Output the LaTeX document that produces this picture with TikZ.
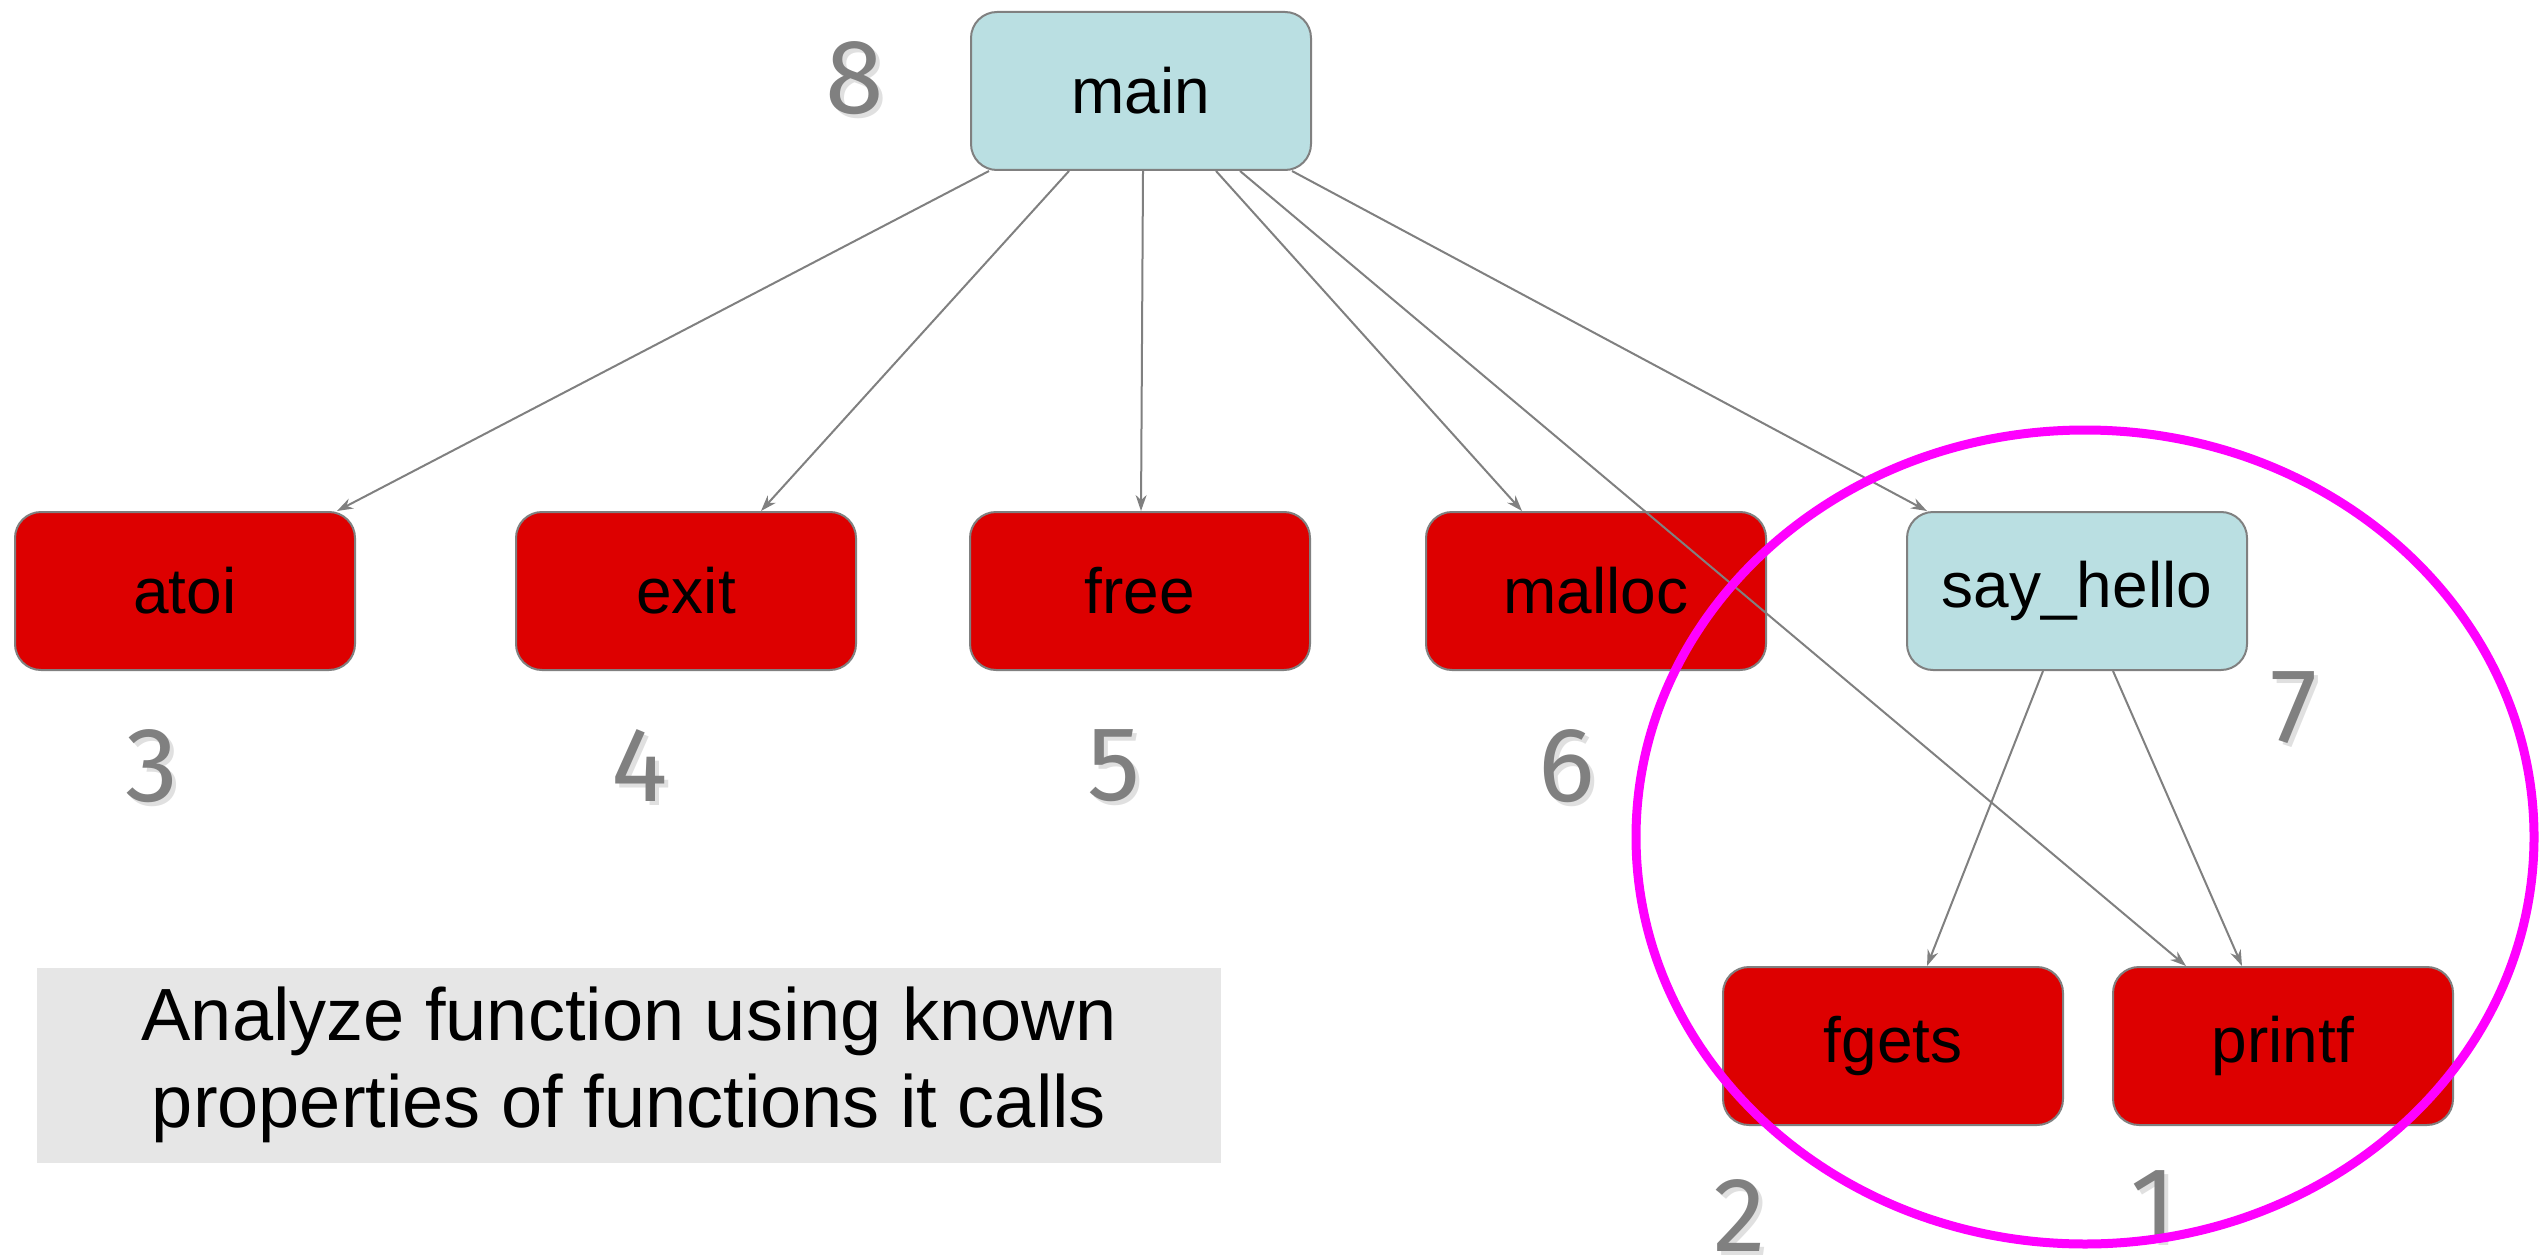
\documentclass[tikz,border=0pt]{standalone}
\usepackage{fontspec}
\setmainfont{Liberation Sans}
\newfontfamily\numfont{Fira Sans}
\usetikzlibrary{arrows.meta}
\definecolor{fnred}{RGB}{221,0,0}
\definecolor{fnblue}{RGB}{186,223,226}
\definecolor{edgegray}{RGB}{128,128,128}
\definecolor{numgray}{RGB}{128,128,128}
\definecolor{notegray}{RGB}{230,230,230}
\definecolor{ringmag}{RGB}{255,0,255}
\newcommand{\numlabel}[3]{%
  \node[numshadow] (#1s) at ([xshift=4pt,yshift=-4pt]#2) {#3};
  \node[num] (#1) at (#2) {#3};}
\begin{document}
\begin{tikzpicture}[x=1pt,y=-1pt,
  fn/.style={draw=edgegray, line width=2pt, rounded corners=26pt,
    minimum width=340pt, minimum height=158pt, inner sep=0pt,
    font=\fontsize{64}{76}\selectfont},
  lib/.style={fn, fill=fnred},
  usr/.style={fn, fill=fnblue},
  call/.style={draw=edgegray, line width=2pt, -{Stealth[length=16pt,width=11pt]}},
  num/.style={text=numgray, font=\numfont\fontsize{106}{120}\selectfont, inner sep=0pt},
  numshadow/.style={num, text=black, opacity=0.12},
  ring/.style={draw=ringmag, line width=9pt}
]
\useasboundingbox (0,0) rectangle (2539,1257);

% nodes
\node[usr] (main) at (1141,91) {main};
\node[lib] (atoi) at (185,591) {atoi};
\node[lib] (exit) at (686,591) {exit};
\node[lib] (free) at (1140,591) {free};
\node[lib] (malloc) at (1596,591) {malloc};
\node[usr] (hello) at (2077,591) {say\_hello};
\node[lib] (fgets) at (1893,1046) {fgets};
\node[lib] (printf) at (2283,1046) {printf};

% note
\node[fill=notegray, minimum width=1184pt, minimum height=195pt, inner sep=0pt,
  align=center, font=\fontsize{74}{87}\selectfont] (note) at (629,1065)
  {Analyze function using known\\properties of functions it calls};

% calls
\draw[call] ([xshift=-152pt]main.south) -- ([xshift=152pt]atoi.north);
\draw[call] ([xshift=-72pt]main.south) -- ([xshift=75pt]exit.north);
\draw[call] ([xshift=2pt]main.south) -- ([xshift=1pt]free.north);
\draw[call] ([xshift=75pt]main.south) -- ([xshift=-74pt]malloc.north);
\draw[call] ([xshift=99pt]main.south) -- ([xshift=-97pt]printf.north);
\draw[call] ([xshift=151pt]main.south) -- ([xshift=-150pt]hello.north);
\draw[call] ([xshift=-34pt]hello.south) -- ([xshift=34pt]fgets.north);
\draw[call] ([xshift=36pt]hello.south) -- ([xshift=-41pt]printf.north);

% order numbers
\numlabel{n8}{855,78}{8}
\numlabel{n3}{152,766}{3}
\numlabel{n4}{640,766}{4}
\numlabel{n5}{1114,766}{5}
\numlabel{n6}{1567,766}{6}
\numlabel{n7}{2294,708}{7}
\numlabel{n2}{1740,1215}{2}
\numlabel{n1}{2153,1206}{1}

% highlight ring
\draw[ring] (2085,837) ellipse [x radius=449, y radius=407];
\end{tikzpicture}
\end{document}
